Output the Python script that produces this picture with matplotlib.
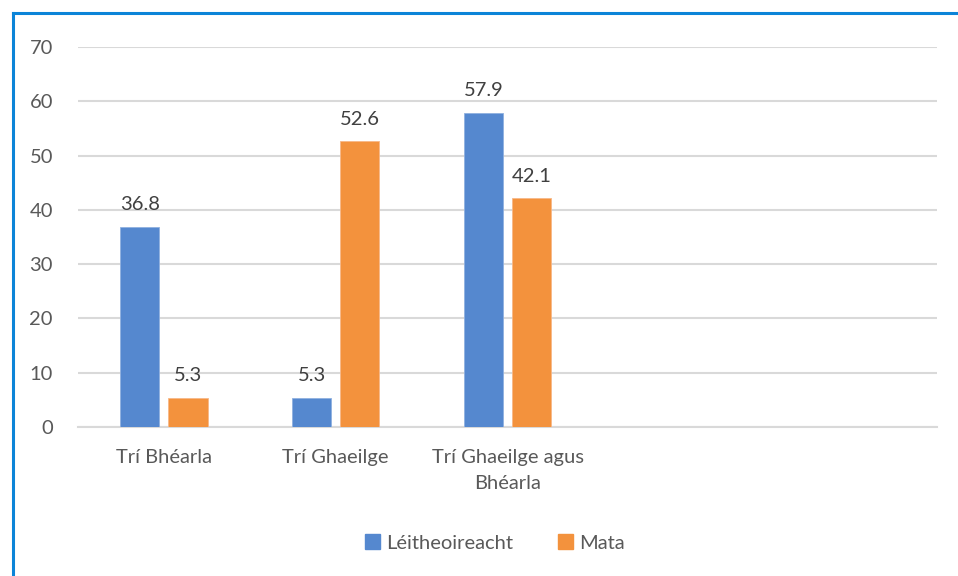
import matplotlib
matplotlib.use("Agg")
from matplotlib import pyplot as plt
from matplotlib.lines import Line2D
from matplotlib.patches import Patch
import numpy as np

# datos del grafico
categorias = ["Trí Bhéarla", "Trí Ghaeilge", "Trí Ghaeilge agus\nBhéarla", "", ""]
leitheoireacht = [36.8, 5.3, 57.9]
mata = [5.3, 52.6, 42.1]
series_nombres = ["Léitheoireacht", "Mata"]
y_ticks = [0, 10, 20, 30, 40, 50, 60, 70]

azul = "#5588CF"
naranja = "#F3923D"
gris_texto = "#595959"
gris_grid = "#D9D9D9"

plt.rcParams['font.family'] = ['Lato', 'DejaVu Sans']

fig = plt.figure(figsize=(9.58, 5.76), dpi=100)
ax = fig.add_axes([78/958, 1-427/576, (937-78)/958, (427-47)/576])

x = np.arange(len(categorias))
n = len(leitheoireacht)
ancho = 0.228
desp = 0.14

b1 = ax.bar(x[:n]-desp, leitheoireacht, ancho, color=azul, edgecolor="#8fb0e0", linewidth=0.6, zorder=3)
b2 = ax.bar(x[:n]+desp, mata, ancho, color=naranja, edgecolor="#f7b888", linewidth=0.6, zorder=3)

for barras in (b1, b2):
    for b in barras:
        ax.annotate(f"{b.get_height():.1f}", (b.get_x()+b.get_width()/2, b.get_height()),
                    xytext=(0, 10), textcoords="offset points", ha="center", va="bottom",
                    fontsize=14.5, color="#404040")

ax.set_xlim(-0.5, len(categorias)-0.5)
ax.set_ylim(0, 70)
ax.set_yticks(y_ticks)
ax.set_xticks(x)
ax.set_xticklabels(categorias, fontsize=14.5, color=gris_texto, linespacing=1.6)
ax.tick_params(axis="y", length=0, pad=18, labelsize=14.5, labelcolor=gris_texto)
ax.tick_params(axis="x", length=0, pad=16)
ax.grid(axis="y", color=gris_grid, linewidth=1.5, zorder=0)
for s in ["top", "right", "left"]:
    ax.spines[s].set_visible(False)
ax.spines["bottom"].set_color(gris_grid)
ax.spines["bottom"].set_linewidth(1.5)

handles = [Patch(color=azul), Patch(color=naranja)]
fig.legend(handles, series_nombres, loc="center", bbox_to_anchor=(495/958, 1-543/576),
           ncol=2, frameon=False, fontsize=14.5, labelcolor=gris_texto,
           handlelength=0.75, handleheight=0.75, handletextpad=0.3, columnspacing=2.2)

# marco azul
fig.add_artist(Line2D([13/958, 13/958], [0, 1-13/576], color="#0B84D8", linewidth=2.2))
fig.add_artist(Line2D([13/958, 1], [1-13/576, 1-13/576], color="#0B84D8", linewidth=2.2))

fig.savefig("out.png", dpi=100, facecolor="white")
